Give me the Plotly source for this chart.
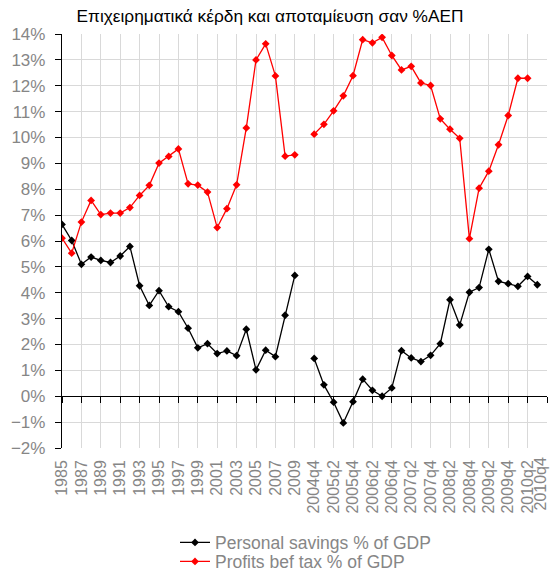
import plotly.graph_objects as go

# ---- data ----
years = [str(y) for y in range(1985, 2010)]
quarters = []
for yr in range(2004, 2011):
    for q in range(1, 5):
        if (yr == 2004 and q < 4):
            continue
        quarters.append(f"{yr}q{q}")
categories = years + [" "] + quarters  # 51 categories

savings_annual = [6.64, 6.02, 5.10, 5.38, 5.25, 5.17, 5.42, 5.79, 4.27, 3.51, 4.08, 3.46, 3.27,
                  2.63, 1.87, 2.03, 1.65, 1.75, 1.57, 2.59, 1.02, 1.78, 1.53, 3.13, 4.67]
savings_quarterly = [1.46, 0.44, -0.23, -1.03, -0.21, 0.66, 0.23, 0.0, 0.32, 1.76, 1.48, 1.34,
                     1.58, 2.03, 3.73, 2.75, 4.02, 4.20, 5.68, 4.44, 4.35, 4.25, 4.63, 4.31, None]
profits_annual = [6.11, 5.53, 6.73, 7.57, 7.02, 7.08, 7.08, 7.29, 7.76, 8.15, 9.01, 9.27, 9.56,
                  8.21, 8.16, 7.89, 6.52, 7.25, 8.17, 10.37, 13.0, 13.62, 12.38, 9.28, 9.33]
profits_quarterly = [10.13, 10.51, 11.03, 11.61, 12.39, 13.78, 13.66, 13.87, 13.17, 12.61, 12.75,
                     12.11, 12.01, 10.72, 10.32, 9.97, 6.09, 8.04, 8.70, 9.72, 10.85, 12.29, 12.29,
                     None, None]

savings = savings_annual + [None] + savings_quarterly
profits = profits_annual + [None] + profits_quarterly

tick_labels = categories[::2]
last_label = tick_labels[-1]

FONT = "Liberation Sans, Arial, sans-serif"
GRAY = "#868686"
GRID = "#d9d9d9"
Y_MIN, Y_MAX = -2, 14
ZERO_FRAC = (0 - Y_MIN) / (Y_MAX - Y_MIN)

fig = go.Figure()
fig.add_trace(go.Scatter(
    x=categories, y=savings, name="Personal savings % of GDP", legend="legend",
    mode="lines+markers", line=dict(color="black", width=1.3),
    marker=dict(symbol="diamond", size=6, color="black"), connectgaps=False))
fig.add_trace(go.Scatter(
    x=categories, y=profits, name="Profits bef tax % of GDP", legend="legend2",
    mode="lines+markers", line=dict(color="#ff0000", width=1.3),
    marker=dict(symbol="diamond", size=6, color="#ff0000"), connectgaps=False))
# invisible trace carrying the axis drawn along the zero line
fig.add_trace(go.Scatter(
    x=categories, y=[0] * len(categories), xaxis="x2", yaxis="y2", mode="lines",
    line=dict(width=0), opacity=0, showlegend=False, hoverinfo="skip"))

common_x = dict(type="category", categoryorder="array", categoryarray=categories,
                range=[0, 50], tickmode="array")

legend_common = dict(orientation="v", x=(175 - 62) / 485, xanchor="left", yanchor="middle",
                     font=dict(family=FONT, size=17.5, color=GRAY),
                     bgcolor="rgba(0,0,0,0)", itemwidth=30, borderwidth=0)

fig.update_layout(
    width=551, height=571,
    margin=dict(l=62, r=4, t=34, b=123, autoexpand=False),
    paper_bgcolor="white", plot_bgcolor="rgba(0,0,0,0)",
    font=dict(family=FONT, size=17, color=GRAY),
    title=dict(text="Επιχειρηματικά κέρδη και αποταμίευση σαν %ΑΕΠ",
               x=0.49, xref="container", xanchor="center",
               y=1 - 16 / 571, yref="container", yanchor="middle",
               font=dict(family=FONT, size=17.3, color="black")),
    xaxis=dict(**common_x, tickvals=tick_labels[:-1], ticktext=tick_labels[:-1],
               anchor="y", side="bottom", tickangle=-90, ticks="",
               showline=False, showgrid=True, gridcolor=GRID, gridwidth=1, zeroline=False,
               tickfont=dict(family=FONT, size=16, color=GRAY), ticklabelstandoff=8,
               automargin=False),
    xaxis2=dict(**common_x, tickvals=tick_labels, ticktext=tick_labels,
                anchor="y2", overlaying="x", side="bottom",
                showticklabels=False, ticks="outside", ticklen=6, tickcolor="black",
                showline=True, linecolor="black", linewidth=1.3, showgrid=False,
                zeroline=False, automargin=False),
    yaxis=dict(range=[Y_MIN, Y_MAX], dtick=1, ticksuffix="%", showline=True,
               linecolor="black", linewidth=1.3, ticks="outside", ticklen=6,
               tickcolor="black", showgrid=True, gridcolor=GRID, gridwidth=1,
               zeroline=False, tickfont=dict(family=FONT, size=17, color=GRAY),
               automargin=False, ticklabelstandoff=6),
    yaxis2=dict(domain=[ZERO_FRAC, 1], anchor="x2", range=[0, 1], visible=False,
                showgrid=False, zeroline=False),
    legend=dict(**legend_common, y=(448 - 542.5) / 414),
    legend2=dict(**legend_common, y=(448 - 561.5) / 414),
    showlegend=True,
    annotations=[dict(x=last_label, xref="x", y=0, yref="paper", yanchor="top",
                      yshift=-8, xshift=-7, textangle=-90, showarrow=False,
                      text=last_label, font=dict(family=FONT, size=16, color=GRAY))],
)

fig.write_html("out.html", config={"displayModeBar": False},
               post_script="document.body.style.margin='0';document.body.style.padding='0';")
